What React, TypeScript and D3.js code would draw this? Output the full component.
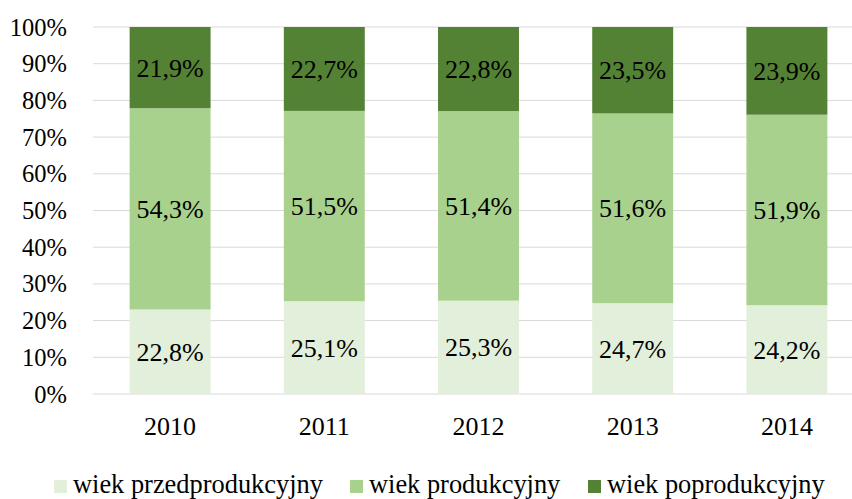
import React, { useEffect, useRef } from "react";
import * as d3 from "d3";

const years = ["2010", "2011", "2012", "2013", "2014"];
const seriesNames = ["wiek przedprodukcyjny", "wiek produkcyjny", "wiek poprodukcyjny"];
const przed = [22.8, 25.1, 25.3, 24.7, 24.2];
const prod = [54.3, 51.5, 51.4, 51.6, 51.9];
const popr = [21.9, 22.7, 22.8, 23.5, 23.9];
const yTicks = [0, 0.1, 0.2, 0.3, 0.4, 0.5, 0.6, 0.7, 0.8, 0.9, 1];
const colors = ["#E2EFDA", "#A9D18E", "#548235"];

const width = 852, height = 499;
const font = "Liberation Serif, DejaVu Serif, serif";

const App = () => {
    const ref = useRef<SVGSVGElement>(null);

    useEffect(() => {
        const svg = d3.select(ref.current);
        svg.selectAll("*").remove();

        const rows = years.map((y, i) => ({ year: y, s0: przed[i], s1: prod[i], s2: popr[i] }));
        const stack = d3.stack<any>().keys(["s0", "s1", "s2"]).offset(d3.stackOffsetExpand);
        const stacked = stack(rows);

        const x = d3.scaleBand().domain(years).range([93, 864]).paddingInner(0.475).paddingOuter(0.2375);
        const yScale = d3.scaleLinear().domain([0, 1]).range([394, 27]);

        // gridlines
        svg.append("g")
            .selectAll("line")
            .data(yTicks)
            .enter()
            .append("line")
            .attr("x1", 93)
            .attr("x2", 864)
            .attr("y1", d => yScale(d))
            .attr("y2", d => yScale(d))
            .attr("stroke", "#d9d9d9")
            .attr("stroke-width", 1);

        // y labels
        svg.append("g")
            .selectAll("text")
            .data(yTicks)
            .enter()
            .append("text")
            .attr("x", 67)
            .attr("y", d => yScale(d))
            .attr("dy", "0.35em")
            .attr("text-anchor", "end")
            .attr("font-size", 24.5)
            .text(d => Math.round(d * 100) + "%");

        const raw = [przed, prod, popr];
        stacked.forEach((layer, k) => {
            const g = svg.append("g");
            g.selectAll("rect")
                .data(layer)
                .enter()
                .append("rect")
                .attr("x", d => x(d.data.year)!)
                .attr("width", x.bandwidth())
                .attr("y", d => yScale(d[1]))
                .attr("height", d => yScale(d[0]) - yScale(d[1]))
                .attr("fill", colors[k]);
            g.selectAll("text")
                .data(layer)
                .enter()
                .append("text")
                .attr("x", d => x(d.data.year)! + x.bandwidth() / 2)
                .attr("y", d => yScale((d[0] + d[1]) / 2))
                .attr("dy", "0.35em")
                .attr("text-anchor", "middle")
                .attr("fill", "#000")
                .text((d, i) => raw[k][i].toFixed(1).replace(".", ",") + "%");
        });

        // x labels
        svg.append("g")
            .selectAll("text")
            .data(years)
            .enter()
            .append("text")
            .attr("x", d => x(d)! + x.bandwidth() / 2)
            .attr("y", 435)
            .attr("text-anchor", "middle")
            .text(d => d);

        // legend
        const legendX = [54, 350, 588];
        const lg = svg.append("g");
        seriesNames.forEach((name, i) => {
            lg.append("rect")
                .attr("x", legendX[i])
                .attr("y", 480)
                .attr("width", 13)
                .attr("height", 13)
                .attr("fill", colors[i]);
            lg.append("text")
                .attr("x", legendX[i] + 19)
                .attr("y", 493)
                .attr("font-size", 26.4)
                .text(name);
        });
    }, []);

    return (
        <div style={{ position: "absolute", left: 0, top: 0 }}>
            <svg ref={ref} width={width} height={height}
                style={{ display: "block", background: "#fff", fontFamily: font, fontSize: 26 }} />
        </div>
    );
};

export default App;
